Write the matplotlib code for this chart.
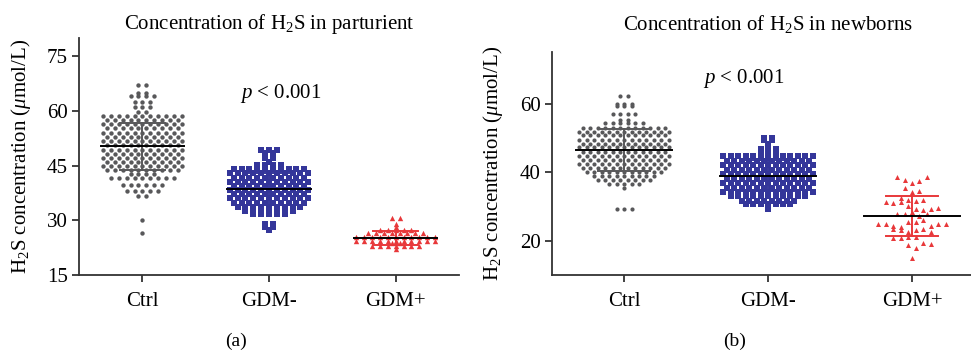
import numpy as np
import matplotlib.pyplot as plt

plt.rcParams['font.family'] = ['Liberation Serif', 'DejaVu Serif']
plt.rcParams['mathtext.fontset'] = 'custom'
plt.rcParams['mathtext.rm'] = 'Liberation Serif'
plt.rcParams['mathtext.it'] = 'Liberation Serif:italic'

groups = ['Ctrl', 'GDM-', 'GDM+']
colors = ['#58585a', '#34369a', '#e8383a']
markers = ['o', 's', '^']

# --- (a) parturient: rows of points (level, count)
a_ctrl_lv = [67.1, 64.9, 64.1, 62.4, 61.0, 59.8, 58.6, 57.5, 56.3, 55.2, 54.0, 52.9,
             51.7, 50.6, 49.4, 48.3, 47.1, 46.0, 44.8, 43.7, 42.6, 41.5, 39.8, 38.0,
             36.7, 30.0, 26.6]
a_ctrl_n = [2, 2, 4, 3, 3, 2, 11, 10, 11, 10, 11, 10, 11, 10, 11, 10, 11, 10, 11, 10,
            4, 9, 6, 5, 2, 1, 1]
a_gdmn_lv = [49.2, 48.4, 47.0, 45.9, 45.1, 44.0, 42.9, 41.7, 40.6, 39.4, 38.3, 37.1,
             36.0, 34.8, 33.7, 32.6, 31.7, 29.0, 28.1, 27.3]
a_gdmn_n = [3, 2, 2, 1, 4, 10, 11, 10, 11, 10, 11, 10, 11, 10, 9, 7, 5, 2, 2, 1]
a_gdmp_lv = [30.7, 29.0, 28.2, 27.4, 26.4, 25.3, 24.3, 23.7, 22.9, 22.0]
a_gdmp_n = [2, 1, 1, 5, 8, 11, 11, 2, 7, 1]
a_mean = [50.3, 38.6, 25.1]
a_sd = [6.4, 4.3, 1.9]

# --- (b) newborns
b_ctrl_lv = [62.1, 60.0, 59.3, 57.1, 55.2, 54.2, 53.0, 51.8, 50.7, 49.5, 48.3, 47.2,
             46.0, 44.8, 43.6, 42.5, 41.3, 40.1, 38.8, 37.6, 36.4, 35.3, 29.2]
b_ctrl_n = [2, 3, 3, 4, 2, 6, 12, 13, 12, 13, 12, 13, 12, 13, 12, 13, 12, 11, 9, 8,
            5, 1, 3]
b_gdmn_lv = [50.1, 49.4, 48.3, 46.8, 45.8, 44.6, 43.3, 42.0, 40.7, 39.4, 38.1, 36.8,
             35.5, 34.2, 32.9, 31.7, 30.6, 29.2]
b_gdmn_n = [2, 2, 1, 3, 3, 13, 12, 13, 12, 13, 12, 13, 12, 13, 11, 8, 7, 1]
b_gdmp = [38.7, 37.8, 36.8, 37.3, 38.7, 35.4, 34.1, 34.4, 32.4, 31.9, 31.2, 31.0, 31.2,
          31.7, 32.0, 30.0, 29.2, 29.0, 29.2, 29.5, 27.8, 27.8, 28.3, 27.3, 27.8,
          25.0, 24.9, 24.4, 23.9, 25.5, 25.5, 26.0, 24.4, 24.9, 25.0,
          23.4, 23.1, 22.4, 23.2, 23.4, 22.6, 20.7, 20.7, 21.0, 21.2, 19.3, 19.0,
          18.7, 17.9, 15.0]
b_mean = [46.5, 39.0, 27.3]
b_sd = [6.1, 4.5, 5.85]


def swarm_x(center, values, binh, dx):
    values = np.asarray(values, float)
    keys = np.floor(values / binh + 0.5).astype(int)
    xs = np.empty_like(values)
    for k in np.unique(keys):
        idx = np.where(keys == k)[0]
        n = len(idx)
        xs[idx] = center + (np.arange(n) - (n - 1) / 2) * dx
    return xs


def panel(ax, data, bins, dx, sizes, means, sds, ylim, yticks):
    for i, vals in enumerate(data):
        xs = swarm_x(i, vals, bins[i], dx)
        ax.scatter(xs, vals, s=sizes[i], marker=markers[i], color=colors[i],
                   linewidths=0, zorder=2)
    for i in range(3):
        m, s = means[i], sds[i]
        ax.plot([i - 0.33, i + 0.33], [m, m], color='black', lw=1.4, zorder=4)
        ax.plot([i, i], [m - s, m + s], color=colors[i], lw=1.4, zorder=3)
        for y in (m - s, m + s):
            ax.plot([i - 0.18, i + 0.18], [y, y], color=colors[i], lw=1.4, zorder=3)
    ax.set_xlim(-0.5, 2.5)
    ax.set_ylim(*ylim)
    ax.set_yticks(yticks)
    ax.set_xticks(range(3))
    ax.set_xticklabels(groups)
    for sp in ('top', 'right'):
        ax.spines[sp].set_visible(False)
    for sp in ('left', 'bottom'):
        ax.spines[sp].set_color('#333333')
        ax.spines[sp].set_linewidth(1.3)
    ax.tick_params(direction='out', length=5, width=1.3, color='#333333',
                   labelsize=15, pad=3)
    ax.tick_params(axis='x', pad=7)
    ax.set_ylabel(r'H$_2$S concentration ($\mu$mol/L)', fontsize=15)


fig = plt.figure(figsize=(9.71, 3.51), dpi=100)
ax1 = fig.add_axes([0.0814, 0.2165, 0.3913, 0.675])
ax2 = fig.add_axes([0.5685, 0.2165, 0.4449, 0.635])

data_a = [np.repeat(a_ctrl_lv, a_ctrl_n), np.repeat(a_gdmn_lv, a_gdmn_n),
          np.repeat(a_gdmp_lv, a_gdmp_n)]
panel(ax1, data_a, [0.45, 0.45, 0.45], 0.062, [10, 14, 15], a_mean, a_sd,
      (15, 80), [15, 30, 45, 60, 75])
ax1.yaxis.set_label_coords(-0.121, 0.5)
ax1.text(1.09, 64.9, r'$p$ < 0.001', fontsize=15, ha='center', va='center')

data_b = [np.repeat(b_ctrl_lv, b_ctrl_n), np.repeat(b_gdmn_lv, b_gdmn_n), b_gdmp]
panel(ax2, data_b, [0.45, 0.45, 2.5], 0.052, [9, 15, 13], b_mean, b_sd,
      (10, 75), [20, 40, 60])
ax2.yaxis.set_label_coords(-0.109, 0.5)
ax2.text(0.83, 67.2, r'$p$ < 0.001', fontsize=15, ha='center', va='center')

fig.text(269 / 971, 1 - 24 / 351, r'Concentration of H$_2$S in parturient',
         fontsize=15, ha='center', va='center')
fig.text(768 / 971, 1 - 24 / 351, r'Concentration of H$_2$S in newborns',
         fontsize=15, ha='center', va='center')
fig.text(236 / 971, 1 - 341 / 351, '(a)', fontsize=14, ha='center', va='center')
fig.text(735 / 971, 1 - 341 / 351, '(b)', fontsize=14, ha='center', va='center')

fig.savefig('out.png', dpi=100)
